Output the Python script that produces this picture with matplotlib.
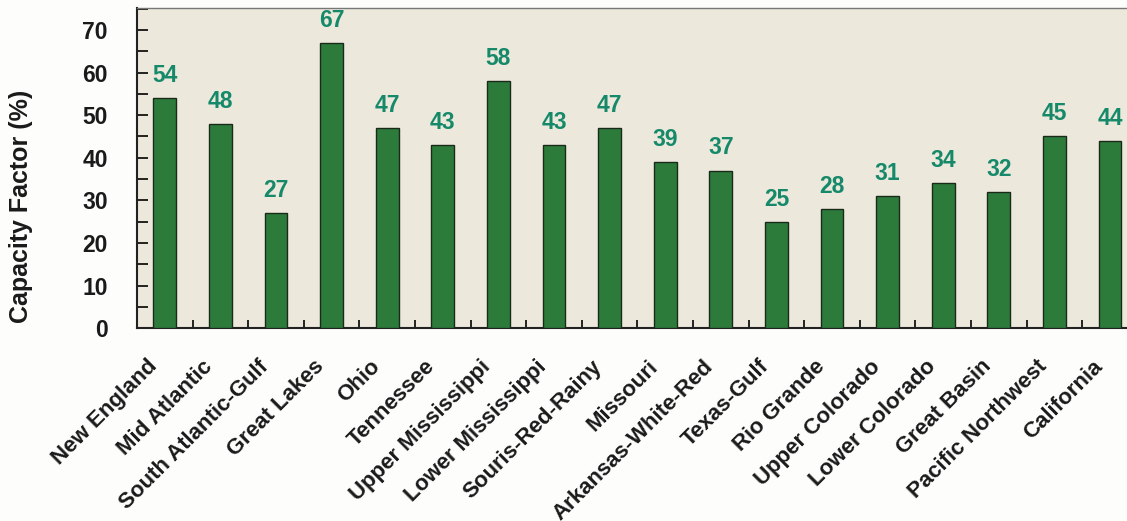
import matplotlib
matplotlib.use("Agg")
import matplotlib.pyplot as plt
import numpy as np
from matplotlib.ticker import MultipleLocator, FixedLocator
from matplotlib.transforms import ScaledTranslation

regions = ["New England", "Mid Atlantic", "South Atlantic-Gulf", "Great Lakes", "Ohio",
           "Tennessee", "Upper Mississippi", "Lower Mississippi", "Souris-Red-Rainy",
           "Missouri", "Arkansas-White-Red", "Texas-Gulf", "Rio Grande", "Upper Colorado",
           "Lower Colorado", "Great Basin", "Pacific Northwest", "California"]
capacity_factor = [54, 48, 27, 67, 47, 43, 58, 43, 47, 39, 37, 25, 28, 31, 34, 32, 45, 44]
y_ticks = [0, 10, 20, 30, 40, 50, 60, 70]

plt.rcParams['font.family'] = ['Liberation Sans', 'DejaVu Sans']

fig = plt.figure(figsize=(11.27, 5.21), dpi=100)
fig.patch.set_facecolor('#FDFDFB')
ax = fig.add_axes([0.1216, 0.370, 0.888, 0.615])
ax.set_facecolor('#ECE9DC')

x = np.arange(len(regions))
ax.bar(x, capacity_factor, width=0.41, color='#2D7B3B', edgecolor='#1A2A1A', linewidth=1.0, zorder=3)
for xi, v in zip(x, capacity_factor):
    ax.annotate(str(v), (xi, v), xytext=(0, 8), textcoords='offset points',
                ha='center', va='bottom', fontsize=16.5, fontweight='bold', color='#16896A')

ax.set_xlim(-0.5, len(regions) - 0.5)
ax.set_ylim(0, 75.2)
ax.set_yticks(y_ticks)
ax.set_yticklabels([str(t) for t in y_ticks], fontsize=16.5, fontweight='bold', color='#1A1A1A')
ax.yaxis.set_minor_locator(MultipleLocator(5))
ax.tick_params(axis='y', which='both', direction='in', length=8, width=1.2, pad=21)

ax.set_xticks(x)
ax.set_xticklabels(regions, rotation=45, ha='right', rotation_mode='anchor',
                   fontsize=16, fontweight='bold', color='#1A1A1A')
ax.xaxis.set_minor_locator(FixedLocator(np.arange(-0.5, len(regions), 1.0)))
ax.tick_params(axis='x', which='major', length=0, pad=20)
ax.tick_params(axis='x', which='minor', direction='in', length=6, width=1.2)
shift = ScaledTranslation(-18 / 100, 0, fig.dpi_scale_trans)
for lab in ax.get_xticklabels():
    lab.set_transform(lab.get_transform() + shift)

ax.set_ylabel('Capacity Factor (%)', fontsize=18, fontweight='bold', color='#1A1A1A')
ax.yaxis.set_label_coords(-0.104, 0.38)

for s in ['left', 'bottom']:
    ax.spines[s].set_linewidth(1.5)
    ax.spines[s].set_color('#222222')
ax.spines['top'].set_color('#777777')
ax.spines['top'].set_linewidth(1.0)
ax.spines['right'].set_visible(False)

fig.savefig('out.png', dpi=100, facecolor=fig.get_facecolor())
